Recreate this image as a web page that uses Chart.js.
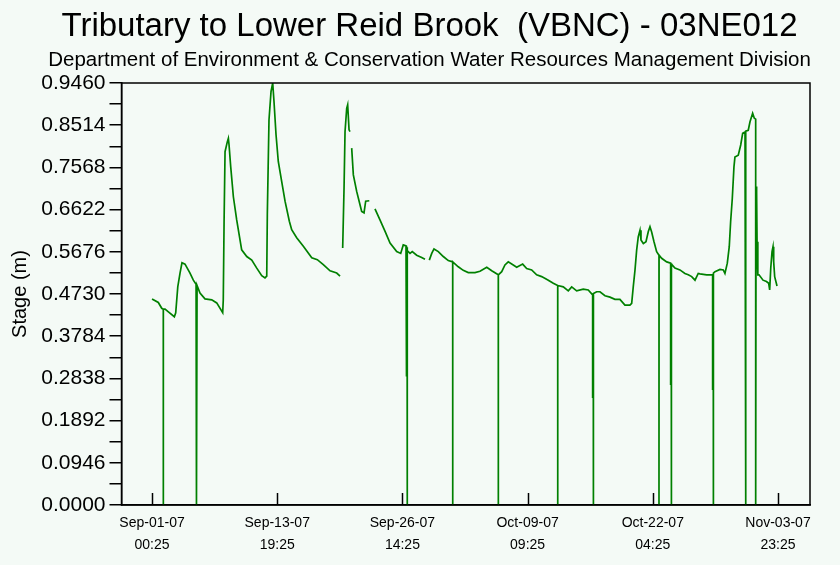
<!DOCTYPE html>
<html>
<head>
<meta charset="utf-8">
<title>Tributary to Lower Reid Brook - 03NE012</title>
<script src="https://cdn.jsdelivr.net/npm/chart.js@4.4.0/dist/chart.umd.min.js"></script>
<style>
    html, body { margin: 0; padding: 0; background: #f4faf6; }
</style>
</head>
<body>
<canvas id="stageChart" width="840" height="565"></canvas>
<script>
// days since Sep-01-07 00:25, stage in metres (null = no record)
var days = [
    0.00, 0.64, 0.99, 1.15, 1.15, 1.16, 1.33, 1.67, 2.28, 2.42, 2.63, 2.86, 3.06, 3.37, 3.88, 4.22,
    4.50, 4.50, 4.56, 4.56, 4.60, 4.90, 5.41, 6.10, 6.61, 7.22, 7.28, 7.36, 7.46, 7.69, 7.80, 7.87,
    8.04, 8.31, 8.65, 9.16, 9.68, 10.19, 10.70, 11.21, 11.54, 11.72, 11.78, 11.95, 12.16, 12.33, 12.46,
    12.67, 12.90, 13.25, 13.59, 14.03, 14.27, 14.78, 15.46, 16.32, 16.89, 17.50, 18.19, 18.87, 19.21,
    19.35, 19.48, 19.62, 19.72, 19.89, 19.99, 20.13, 20.23, 20.30, 20.40, 20.57, 20.91, 21.25, 21.42,
    21.66, 21.83, 22.20, 22.50, 22.78, 23.29, 23.80, 24.32, 25.00, 25.41, 25.67, 25.95, 26.00, 26.00,
    26.06, 26.06, 26.10, 26.36, 26.59, 27.04, 27.55, 27.89, 28.10, 28.33, 28.58, 28.81, 29.25, 29.76,
    30.27, 30.72, 30.72, 30.73, 31.29, 31.80, 32.31, 33.00, 33.51, 34.20, 34.71, 35.38, 35.38, 35.39,
    35.73, 36.06, 36.40, 36.91, 37.26, 37.87, 38.28, 38.79, 39.30, 39.81, 40.49, 41.00, 41.45, 41.45,
    41.46, 42.02, 42.53, 42.88, 43.39, 44.06, 44.57, 45.02, 45.02, 45.08, 45.08, 45.12, 45.43, 45.77,
    46.28, 46.79, 47.30, 47.81, 48.32, 48.83, 49.01, 49.17, 49.35, 49.52, 49.68, 49.86, 49.96, 50.20,
    50.47, 50.71, 50.88, 51.05, 51.29, 51.56, 51.80, 51.80, 51.81, 52.07, 52.59, 52.99, 52.99, 53.05,
    53.05, 53.09, 53.43, 53.94, 54.45, 54.79, 55.14, 55.48, 55.81, 55.99, 56.67, 57.28, 57.28, 57.34,
    57.34, 57.38, 57.52, 58.03, 58.37, 58.54, 58.78, 58.98, 59.12, 59.29, 59.46, 59.56, 59.90, 60.15,
    60.35, 60.59, 60.66, 60.66, 60.67, 60.92, 61.10, 61.37, 61.54, 61.68, 61.68, 61.72, 61.76, 61.79,
    61.82, 61.90, 62.02, 62.43, 62.78, 63.01, 63.11, 63.22, 63.35, 63.45, 63.52, 63.62, 63.86
];
var stage = [
    0.462, 0.454, 0.441, 0.439, 0, 0.439, 0.439, 0.433, 0.422, 0.431, 0.489, 0.520, 0.543, 0.540, 0.520, 0.504,
    0.495, 0.247, 0.495, 0, 0.492, 0.475, 0.462, 0.460, 0.453, 0.431, 0.460, 0.632, 0.792, 0.814, 0.822, 0.807,
    0.758, 0.691, 0.639, 0.572, 0.557, 0.549, 0.531, 0.514, 0.509, 0.513, 0.651, 0.863, 0.927, 0.946, 0.905,
    0.830, 0.770, 0.725, 0.681, 0.636, 0.617, 0.599, 0.580, 0.554, 0.550, 0.539, 0.525, 0.520, 0.513,
    null, 0.576, 0.711, 0.837, 0.889, 0.897, 0.841, 0.837, null, 0.800, 0.740, 0.703, 0.673, 0.658,
    0.655, 0.681, 0.682, null, 0.664, 0.639, 0.614, 0.587, 0.568, 0.564, 0.583, 0.581, 0.581, 0.288,
    0.578, 0, 0.570, 0.564, 0.568, 0.560, 0.555, 0.551, null, 0.549, 0.564, 0.574, 0.568, 0.557,
    0.548, 0.545, 0, 0.545, 0.534, 0.526, 0.521, 0.521, 0.524, 0.533, 0.525, 0.516, 0, 0.516,
    0.523, 0.538, 0.545, 0.538, 0.533, 0.540, 0.530, 0.527, 0.516, 0.512, 0.504, 0.497, 0.492, 0,
    0.492, 0.489, 0.480, 0.489, 0.480, 0.484, 0.482, 0.471, 0.240, 0.471, 0, 0.474, 0.478, 0.478,
    0.469, 0.466, 0.461, 0.461, 0.448, 0.448, 0.452, 0.489, 0.527, 0.572, 0.601, 0.616, 0.594, 0.586,
    0.590, 0.613, 0.624, 0.612, 0.590, 0.568, 0.560, 0, 0.560, 0.553, 0.545, 0.542, 0.269, 0.542,
    0, 0.540, 0.531, 0.527, 0.519, 0.516, 0.512, 0.504, 0.519, 0.518, 0.516, 0.516, 0.258, 0.516,
    0, 0.520, 0.523, 0.528, 0.527, 0.519, 0.542, 0.579, 0.635, 0.687, 0.758, 0.780, 0.784, 0.807,
    0.833, 0.836, 0.836, 0, 0.838, 0.840, 0.859, 0.878, 0.867, 0.865, 0, 0.714, 0.594, 0.700,
    0.590, 0.516, 0.516, 0.504, 0.501, 0.497, 0.482, 0.531, 0.568, 0.579, 0.545, 0.512, 0.491
];

var xTickDays = [0, 12.7917, 25.5833, 38.375, 51.1667, 63.9583];
var xTickLabels = [
    ['Sep-01-07', '00:25'], ['Sep-13-07', '19:25'], ['Sep-26-07', '14:25'],
    ['Oct-09-07', '09:25'], ['Oct-22-07', '04:25'], ['Nov-03-07', '23:25']
];
var yTickValues = [0, 0.0473, 0.0946, 0.1419, 0.1892, 0.2365, 0.2838, 0.3311, 0.3784, 0.4257, 0.4730,
    0.5203, 0.5676, 0.6149, 0.6622, 0.7095, 0.7568, 0.8041, 0.8514, 0.8987, 0.9460];
var yTickLabels = ['0.0000', '', '0.0946', '', '0.1892', '', '0.2838', '', '0.3784', '', '0.4730',
    '', '0.5676', '', '0.6622', '', '0.7568', '', '0.8514', '', '0.9460'];

Chart.defaults.font.family = "'Liberation Sans', Arial, sans-serif";
Chart.defaults.color = '#000';

var points = days.map(function (d, i) {
    return {x: d, y: stage[i]};
});

var framePlugin = {
    id: 'frame',
    beforeDraw: function (chart) {
        var ctx = chart.ctx;
        ctx.save();
        ctx.fillStyle = '#f4faf6';
        ctx.fillRect(0, 0, chart.width, chart.height);
        ctx.restore();
    },
    afterDraw: function (chart) {
        var ctx = chart.ctx;
        var area = chart.chartArea;
        var xs = chart.scales.x;
        ctx.save();
        ctx.strokeStyle = '#000';
        ctx.lineWidth = 1.5;
        ctx.strokeRect(area.left, area.top, area.right - area.left, area.bottom - area.top);
        // x ticks point up into the plot
        xs.ticks.forEach(function (t) {
            var px = Math.round(xs.getPixelForValue(t.value)) + 0.5;
            ctx.beginPath();
            ctx.moveTo(px, area.bottom);
            ctx.lineTo(px, area.bottom - 12);
            ctx.stroke();
        });
        ctx.restore();
    }
};

new Chart(document.getElementById('stageChart'), {
    type: 'line',
    data: {
        datasets: [{
            label: 'Stage',
            data: points,
            borderColor: 'rgb(0, 128, 0)',
            borderWidth: 1.7,
            pointRadius: 0,
            tension: 0,
            spanGaps: false,
            fill: false
        }]
    },
    options: {
        responsive: false,
        animation: false,
        layout: {padding: {left: 19, right: 0, top: 0, bottom: 0}},
        plugins: {
            legend: {display: false},
            tooltip: {enabled: false},
            title: {
                display: true,
                text: 'Tributary to Lower Reid Brook  (VBNC) - 03NE012',
                font: {size: 33, weight: 'normal'},
                color: '#000',
                padding: {top: 7, bottom: 0}
            },
            subtitle: {
                display: true,
                text: 'Department of Environment & Conservation Water Resources Management Division',
                font: {size: 20.5, weight: 'normal'},
                color: '#000',
                padding: {top: 1, bottom: 10.8}
            }
        },
        scales: {
            x: {
                type: 'linear',
                min: -3.12,
                max: 67.23,
                afterBuildTicks: function (scale) {
                    scale.ticks = xTickDays.map(function (v) { return {value: v}; });
                },
                afterFit: function (scale) { scale.height = 60; },
                ticks: {
                    autoSkip: false,
                    maxRotation: 0,
                    padding: 7,
                    font: {size: 14, lineHeight: 1.57},
                    callback: function (v, i) { return xTickLabels[i]; }
                },
                grid: {drawOnChartArea: false, drawTicks: false},
                border: {color: '#000', width: 1.5}
            },
            y: {
                min: 0,
                max: 0.946,
                afterBuildTicks: function (scale) {
                    scale.ticks = yTickValues.map(function (v) { return {value: v}; });
                },
                afterFit: function (scale) { scale.width = 102.5; },
                ticks: {
                    autoSkip: false,
                    padding: 4,
                    font: {size: 21},
                    callback: function (v, i) { return yTickLabels[i]; }
                },
                grid: {drawOnChartArea: false, tickLength: 12, color: '#000', lineWidth: 1.5},
                border: {color: '#000', width: 1.5},
                title: {
                    display: true,
                    text: 'Stage (m)',
                    font: {size: 20},
                    color: '#000',
                    padding: {top: -11, bottom: 0}
                }
            },
            spacer: {
                position: 'right',
                display: true,
                ticks: {display: false},
                grid: {display: false},
                border: {display: false},
                afterFit: function (scale) { scale.width = 30; }
            }
        }
    },
    plugins: [framePlugin]
});
</script>
</body>
</html>
